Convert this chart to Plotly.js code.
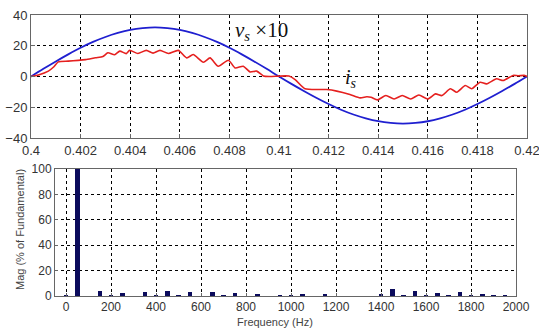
<!DOCTYPE html>
<html>
<head>
<meta charset="utf-8">
<script src="https://cdn.plot.ly/plotly-3.0.1.min.js"></script>
<style>html,body{margin:0;padding:0;background:#fff;}#chart{width:539px;height:331px;}</style>
</head>
<body>
<div id="chart"></div>
<script>
// ---- Top panel: supply voltage (x10) and source current ----
const vsTime = [0.4,0.4005,0.401,0.4015,0.402,0.4025,0.403,0.4035,0.404,0.4045,0.405,0.4055,0.406,0.4065,0.407,0.4075,0.408,0.4085,0.409,0.4095,0.41,
  0.4105,0.411,0.4115,0.412,0.4125,0.413,0.4135,0.414,0.4145,0.415,0.4155,0.416,0.4165,0.417,0.4175,0.418,0.4185,0.419,0.4195,0.42];
const vsValues = [0,5,9.8,14.4,18.7,22.5,25.7,28.3,30.3,31.5,32,31.5,30.3,28.3,25.7,22.5,18.7,14.4,9.8,5,0,
  -4.8,-9.4,-13.8,-17.9,-21.6,-24.7,-27.2,-29.1,-30.2,-30.6,-30.2,-29.1,-27.2,-24.7,-21.6,-17.9,-13.8,-9.4,-4.8,0];

const isTime = [0.4,0.4003,0.4007,0.4009,0.4011,0.4015,0.4019,0.4022,0.4026,0.4029,0.4031,0.40337,0.40358,0.40384,0.40398,0.40431,0.40465,0.40492,0.4052,0.40554,0.40594,
  0.40628,0.40654,0.40695,0.40722,0.40755,0.40796,0.40823,0.40856,0.40883,0.4091,0.40937,0.4096,0.4104,
  0.41065,0.41105,0.41192,0.41233,0.41286,0.41327,0.41354,
  0.41371,0.41397,0.41431,0.41464,0.41497,0.41531,0.41564,0.416,0.41631,0.41657,0.41691,0.41717,0.41751,0.41777,0.41811,0.41837,0.41877,0.41904,0.41944,0.41964,0.41991,0.42];
const isValues = [0,1,3.5,6,9.5,10,10.5,11,12.2,13,15.4,14.2,16.5,14.9,17,15,17,15.2,17,15,17,
  12.1,14.3,9.3,12.1,6.7,10.6,5.6,6.7,3,3.5,0.4,0,0.3,
  -2,-8,-8.5,-9.5,-11.7,-13.9,-13.2,
  -13.5,-15.2,-12.4,-14.6,-12.4,-14.6,-12,-14.6,-11.3,-12.4,-8,-10.2,-5.9,-8,-3.7,-4.8,-1.5,-2.6,0.7,0.5,0.7,0];

const topXTicks = [0.4,0.402,0.404,0.406,0.408,0.41,0.412,0.414,0.416,0.418,0.42];
const topXLabels = ["0.4","0.402","0.404","0.406","0.408","0.41","0.412","0.414","0.416","0.418","0.42"];
const topYTicks = [-40,-20,0,20,40];

// ---- Bottom panel: harmonic spectrum ----
const freqHz = [0,50,100,150,200,250,300,350,400,450,500,550,600,650,700,750,800,850,900,950,1000,1050,1100,1150,1200,1250,1300,1350,1400,1450,1500,1550,1600,1650,1700,1750,1800,1850,1900,1950,2000];
const magPct = [0.4,100,0.3,4.0,0.4,2.1,0.3,3.2,0.4,3.9,0.4,3.2,0.3,2.9,0.4,2.1,0.3,1.3,0.3,1.0,0.4,1.2,0.3,1.2,0.2,0.3,0.2,0.3,1.4,5.2,0.9,3.9,0.9,2.6,0.6,3.1,0.5,1.5,0.4,0.9,0.3];
const botXTicks = [0,200,400,600,800,1000,1200,1400,1600,1800,2000];
const botYTicks = [0,20,40,60,80,100];

const tickFont = {family:'"Liberation Sans", Arial, sans-serif', size:13, color:'#333'};
const tickFontB = {family:'"Liberation Sans", Arial, sans-serif', size:12, color:'#333'};

const traces = [
  {x: vsTime, y: vsValues, type:'scatter', mode:'lines', line:{color:'#1f1fd0', width:1.8, shape:'spline'}, xaxis:'x', yaxis:'y', hoverinfo:'skip'},
  {x: isTime, y: isValues, type:'scatter', mode:'lines', line:{color:'#e5201f', width:1.6, shape:'spline', smoothing:0.6}, xaxis:'x', yaxis:'y', hoverinfo:'skip'},
  {x: freqHz, y: magPct, type:'bar', width:20, marker:{color:'#0b0b5c', line:{width:0}}, xaxis:'x2', yaxis:'y2', hoverinfo:'skip'}
];

const gridStyle = {showgrid:true, gridcolor:'#000', griddash:'dot', gridwidth:1};

const layout = {
  width:539, height:331,
  margin:{l:0,r:0,t:0,b:0},
  paper_bgcolor:'#fff', plot_bgcolor:'#fff',
  showlegend:false,
  xaxis:Object.assign({domain:[31/539, 527/539], anchor:'y', range:[0.4,0.42], tickvals:topXTicks, ticktext:topXLabels,
    tickfont:tickFont, showline:true, linecolor:'#666', linewidth:1, mirror:true, zeroline:false, ticklabeloverflow:'allow',
    ticks:'inside', ticklen:4, tickcolor:'#666'}, gridStyle),
  yaxis:Object.assign({domain:[1-138/331, 1-15/331], anchor:'x', range:[-40,40], tickvals:topYTicks,
    tickfont:tickFont, showline:true, linecolor:'#666', linewidth:1, mirror:true, zeroline:false, ticklabeloverflow:'allow',
    ticks:'inside', ticklen:4, tickcolor:'#666'}, gridStyle),
  xaxis2:Object.assign({domain:[55/539, 516/539], anchor:'y2', range:[-49,2000], tickvals:botXTicks,
    tickfont:tickFontB, showline:true, linecolor:'#666', linewidth:1, mirror:true, zeroline:false, ticklabeloverflow:'allow',
    ticks:'inside', ticklen:3, tickcolor:'#666'}, gridStyle),
  yaxis2:Object.assign({domain:[1-296/331, 1-169/331], anchor:'x2', range:[0,100], tickvals:botYTicks,
    tickfont:tickFontB, showline:true, linecolor:'#666', linewidth:1, mirror:true, zeroline:false, ticklabeloverflow:'allow',
    ticks:'inside', ticklen:3, tickcolor:'#666'}, gridStyle),
  bargap:0,
  annotations:[
    {xref:'x', yref:'y', x:0.4093, y:29.5, showarrow:false, xanchor:'center', yanchor:'middle',
     text:'<i>v</i><sub><i>s</i></sub> ×10', font:{family:'"Liberation Serif", "Times New Roman", serif', size:21, color:'#111'}},
    {xref:'x', yref:'y', x:0.4129, y:-1.5, showarrow:false, xanchor:'center', yanchor:'middle',
     text:'<i>i</i><sub><i>s</i></sub>', font:{family:'"Liberation Serif", "Times New Roman", serif', size:20, color:'#111'}},
    {xref:'paper', yref:'paper', x:20/539, y:1-230/331, showarrow:false, textangle:-90, xanchor:'center', yanchor:'middle',
     text:'Mag (% of Fundamental)', font:{family:'"Liberation Sans", Arial, sans-serif', size:11, color:'#444'}},
    {xref:'paper', yref:'paper', x:275/539, y:1-322/331, showarrow:false, xanchor:'center', yanchor:'middle',
     text:'Frequency (Hz)', font:{family:'"Liberation Sans", Arial, sans-serif', size:11, color:'#444'}}
  ]
};

Plotly.newPlot('chart', traces, layout, {staticPlot:true, displayModeBar:false});
</script>
</body>
</html>
